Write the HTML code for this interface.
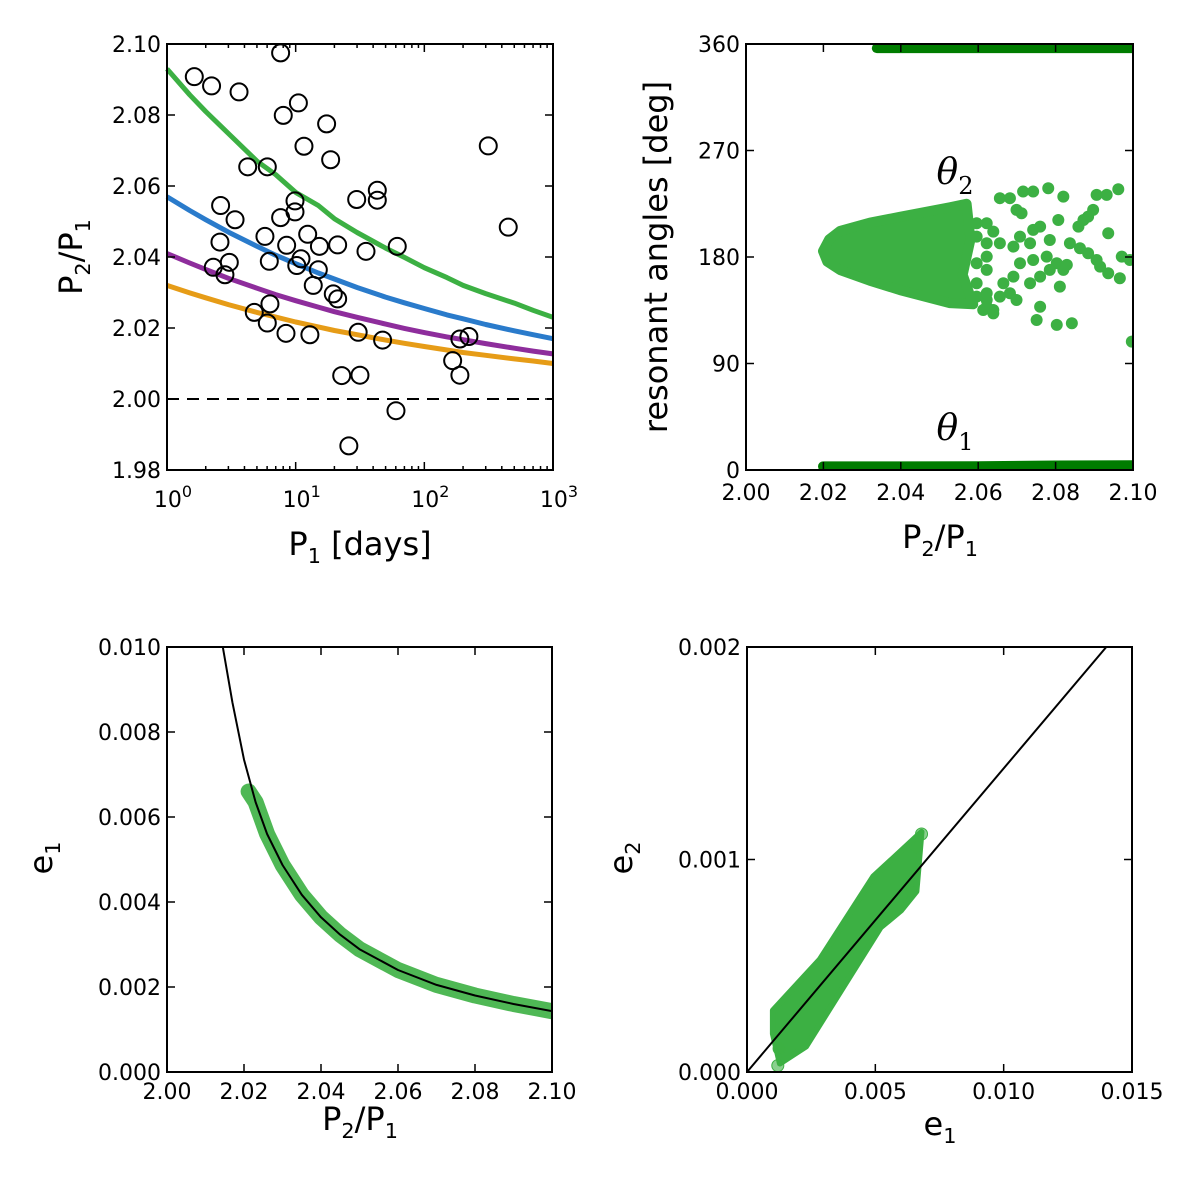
<!DOCTYPE html>
<html><head><meta charset="utf-8"><style>
html,body{margin:0;padding:0;background:#fff;}
svg{display:block;font-family:"DejaVu Sans","Liberation Sans",sans-serif;}
</style></head><body>
<svg id="fig" width="1200" height="1200" viewBox="0 0 1200 1200" xmlns="http://www.w3.org/2000/svg"></svg>
<script>
// ---------- data: panel A (P2/P1 vs P1) ----------
const obsP = [7.64,1.63,2.22,3.63,10.5,8.01,17.4,11.6,314,18.7,4.24,6.02,43.1,43.1,29.8,9.88,9.88,2.61,3.38,7.64,449,5.77,12.4,2.58,8.51,15.3,21.2,61.6,35.2,3.05,6.24,11.0,10.2,2.29,2.82,15.0,13.7,19.6,21.2,6.31,4.77,6.02,8.41,12.9,30.6,47.4,189,222,166,189,22.8,31.6,60.2,25.9];
const obsRatio = [2.0975,2.0908,2.0882,2.0865,2.0834,2.0799,2.0775,2.0712,2.0713,2.0674,2.0654,2.0654,2.0588,2.0560,2.0562,2.0558,2.0527,2.0545,2.0505,2.0511,2.0484,2.0458,2.0464,2.0442,2.0433,2.0430,2.0434,2.0430,2.0416,2.0385,2.0388,2.0395,2.0376,2.0371,2.0350,2.0364,2.0320,2.0296,2.0282,2.0268,2.0244,2.0214,2.0185,2.0181,2.0188,2.0166,2.0169,2.0176,2.0108,2.0067,2.0066,2.0067,1.9967,1.9868];
const curveP = [1,1.5,2,3,5,7,10,15,20,30,50,70,100,150,200,300,500,700,1000];
const greenCurve = [2.093,2.0857,2.081,2.0748,2.067,2.0632,2.0582,2.0545,2.0508,2.0469,2.0425,2.0399,2.037,2.0342,2.032,2.0297,2.027,2.025,2.023];
const blueCurve = [2.057,2.0531,2.0505,2.047,2.043,2.0405,2.0381,2.0355,2.0338,2.0314,2.0287,2.0271,2.0255,2.0237,2.0226,2.021,2.0192,2.0181,2.017];
const purpleCurve = [2.041,2.0383,2.0365,2.034,2.0312,2.0294,2.0277,2.0259,2.0246,2.023,2.0211,2.0199,2.0187,2.0175,2.0167,2.0156,2.0143,2.0135,2.0127];
const orangeCurve = [2.032,2.0299,2.0285,2.0266,2.0244,2.0231,2.0217,2.0203,2.0193,2.0181,2.0166,2.0157,2.0148,2.0138,2.0131,2.0123,2.0113,2.0107,2.0100];
// ---------- data: panel B (resonant angles) ----------
const cloudX = [2.0199,2.0215,2.0243,2.0320,2.0398,2.0527,2.0570,2.0580,2.0560,2.0587,2.0527,2.0398,2.0320,2.0243,2.0210];
const cloudDeg = [185,195,202,209,214,222,225,195,165,140,141,152,160,169,176];
const dotX = [2.0656,2.0682,2.0716,2.0742,2.0781,2.0820,2.0906,2.0932,2.0962,2.0699,2.0712,2.0897,2.0884,2.0872,2.0859,2.0936,2.0807,2.0622,2.0639,2.0708,2.0742,2.0760,2.0785,2.0734,2.0691,2.0656,2.0837,2.0863,2.0884,2.0906,2.0915,2.0936,2.0966,2.0971,2.0992,2.0742,2.0777,2.0803,2.0829,2.0820,2.0785,2.0760,2.0708,2.0691,2.0665,2.0682,2.0734,2.0656,2.0622,2.0613,2.0639,2.0699,2.0760,2.0751,2.0803,2.0842,2.0811,2.0997,2.0596,2.0596,2.0596,2.0596,2.0596,2.0622,2.0622,2.0622,2.0622,2.0622,2.0639];
const dotDeg = [229.7,229.7,235.3,235.3,238.1,231,232.5,232.5,237.3,219.8,217,219.8,214.1,211.3,205.7,200.1,211.3,208.5,201.4,197.2,202.9,205.7,194.4,191.6,188.8,191.6,191.6,187.4,183.2,177.5,171.9,166.3,162,180.3,177.5,177.5,180.3,174.7,173.3,169.1,169.1,163.4,174.7,163.4,157.8,149.4,157.8,146.5,143.7,135.2,135.2,143.7,138,126.8,122.6,124,155,108.5,208.5,197.2,174.7,157.8,146.5,191.6,180.3,169.1,149.4,138,132.4];
const theta1X = [2.0199,2.04,2.06,2.08,2.10];
const theta1Deg = [3,3,3.2,3.8,4];
const theta2X = [2.0338,2.05,2.07,2.09,2.10];
const theta2Deg = [356.5,356.5,356.5,356.5,356.5];
// ---------- data: panel C (e1 vs P2/P1) ----------
const modelRatio = [2.0145,2.017,2.02,2.023,2.026,2.03,2.035,2.04,2.045,2.05,2.06,2.07,2.08,2.09,2.10];
const modelE1 = [0.0100,0.0087,0.00735,0.00635,0.0056,0.00487,0.00417,0.00364,0.00323,0.00289,0.0024,0.00205,0.0018,0.0016,0.00143];
const simRatio = [2.0212,2.023,2.026,2.03,2.035,2.04,2.045,2.05,2.06,2.07,2.08,2.09,2.10];
const simE1 = [0.0066,0.00635,0.0056,0.00487,0.00417,0.00364,0.00323,0.00289,0.0024,0.00205,0.0018,0.0016,0.00143];
// ---------- data: panel D (e2 vs e1) ----------
const lineE1 = [0,0.014];
const lineE2 = [0,0.002];
const bandE1 = [0.00101,0.00101,0.00128,0.0023,0.0052,0.0060,0.0066,0.0068,0.0060,0.00492,0.00284];
const bandE2 = [0.00029,0.00018,0.00004,0.00012,0.00068,0.00076,0.00085,0.00113,0.00104,0.00092,0.00053];
const endE1 = [0.0012,0.00125,0.0068,0.0066,0.0064];
const endE2 = [0.00003,0.00011,0.00112,0.00106,0.00085];

const NS = "http://www.w3.org/2000/svg";
const svg = document.getElementById("fig");
function mk(tag, attrs, parent) {
  const e = document.createElementNS(NS, tag);
  for (const k in attrs) e.setAttribute(k, attrs[k]);
  (parent || svg).appendChild(e);
  return e;
}
function lin(d0, d1, p0, p1) { return v => p0 + (v - d0) / (d1 - d0) * (p1 - p0); }

function frame(L, R, T, B, name) {
  const r = mk("rect", {x: L, y: T, width: R - L, height: B - T, fill: "none", stroke: "#000", "stroke-width": 2});
  
  
}
function xTick(x, T, B, len) {
  mk("line", {x1: x, x2: x, y1: B, y2: B - len, stroke: "#000", "stroke-width": 1.5});
  mk("line", {x1: x, x2: x, y1: T, y2: T + len, stroke: "#000", "stroke-width": 1.5});
}
function yTick(y, L, R, len) {
  mk("line", {x1: L, x2: L + len, y1: y, y2: y, stroke: "#000", "stroke-width": 1.5});
  mk("line", {x1: R, x2: R - len, y1: y, y2: y, stroke: "#000", "stroke-width": 1.5});
}
function text(x, y, s, anchor, size, name) {
  const t = mk("text", {x: x, y: y, "text-anchor": anchor, "font-size": size, fill: "#000"});
  t.textContent = s;
  
  
  return t;
}
function subLabel(x, y, parts, size, name, rotate) {
  const t = mk("text", {x: x, y: y, "text-anchor": "middle", "font-size": size, fill: "#000"});
  if (rotate) t.setAttribute("transform", "rotate(-90 " + x + " " + y + ")");
  
  
  parts.forEach(p => {
    const s = mk("tspan", {}, t);
    s.textContent = p[0];
    if (p[1] === "sub") { s.setAttribute("font-size", size * 0.65); s.setAttribute("dy", size * 0.25); }
    if (p[1] === "up") { s.setAttribute("dy", -size * 0.25); }
  });
  return t;
}

// ================= Panel A =================
(function(){
  const L = 167, R = 553, T = 44, B = 470;
  const X = v => L + Math.log10(v) / 3 * (R - L);
  const Y = lin(1.98, 2.10, B, T);
  const g = mk("g", {});
  
  
  const dash = mk("line", {x1: L, x2: R, y1: Y(2.0), y2: Y(2.0), stroke: "#000", "stroke-width": 2, "stroke-dasharray": "12,8"}, g);
  
  
  const series = [[orangeCurve, "#e69c17", "orange-curve"], [purpleCurve, "#8e2d9c", "purple-curve"], [blueCurve, "#2a7bcb", "blue-curve"], [greenCurve, "#3cb043", "green-curve"]];
  series.forEach(s => {
    const pts = curveP.map((p, i) => X(p).toFixed(1) + "," + Y(s[0][i]).toFixed(1)).join(" ");
    const pl = mk("polyline", {points: pts, fill: "none", stroke: s[1], "stroke-width": 5, "stroke-linejoin": "round"}, g);
    
    
  });
  obsP.forEach((p, i) => {
    const c = mk("circle", {cx: X(p), cy: Y(obsRatio[i]), r: 8.5, fill: "none", stroke: "#000", "stroke-width": 2}, g);
    
    
  });
  frame(L, R, T, B, "panel-a");
  for (let d = 0; d < 3; d++) for (let m = 2; m <= 9; m++) xTick(X(m * Math.pow(10, d)), T, B, 4);
  [1, 10, 100, 1000].forEach((v, i) => {
    xTick(X(v), T, B, 8);
    const t = mk("text", {x: X(v) + 6, y: B + 37, "text-anchor": "middle", "font-size": 22});
    
    
    const a = mk("tspan", {}, t); a.textContent = "10";
    const b = mk("tspan", {"font-size": 16, dy: -10}, t); b.textContent = String(i);
  });
  [1.98, 2.00, 2.02, 2.04, 2.06, 2.08, 2.10].forEach(v => {
    yTick(Y(v), L, R, 8);
    text(L - 6, Y(v) + 8, v.toFixed(2), "end", 22, "y-tick-label");
  });
  subLabel(360, 555, [["P"], ["1", "sub"], ["  [days]", "up"]], 32, "x-axis-title");
  subLabel(82, 257, [["P"], ["2", "sub"], ["/P", "up"], ["1", "sub"]], 32, "y-axis-title", true);
})();

// ================= Panel B =================
(function(){
  const L = 746, R = 1133, T = 44, B = 470;
  const X = lin(2.0, 2.1, L, R);
  const Y = lin(0, 360, B, T);
  const cp = mk("clipPath", {id: "clipB"});
  mk("rect", {x: L, y: T, width: R - L, height: B - T}, cp);
  const g = mk("g", {"clip-path": "url(#clipB)"});
  
  
  const poly = mk("polygon", {points: cloudX.map((x, i) => X(x).toFixed(1) + "," + Y(cloudDeg[i]).toFixed(1)).join(" "), fill: "#3cb043", stroke: "#3cb043", "stroke-width": 10, "stroke-linejoin": "round"}, g);
  
  
  dotX.forEach((x, i) => {
    const c = mk("circle", {cx: X(x), cy: Y(dotDeg[i]), r: 6, fill: "#3cb043"}, g);
    
    
  });
  const b1 = mk("polyline", {points: theta1X.map((x, i) => X(x).toFixed(1) + "," + Y(theta1Deg[i]).toFixed(1)).join(" "), fill: "none", stroke: "#007c00", "stroke-width": 10, "stroke-linecap": "round"}, g);
  
  
  const b2 = mk("polyline", {points: theta2X.map((x, i) => X(x).toFixed(1) + "," + Y(theta2Deg[i]).toFixed(1)).join(" "), fill: "none", stroke: "#007c00", "stroke-width": 10, "stroke-linecap": "round"}, g);
  
  
  frame(L, R, T, B, "panel-b");
  [2.0, 2.02, 2.04, 2.06, 2.08, 2.10].forEach(v => { xTick(X(v), T, B, 8); text(X(v), B + 30, v.toFixed(2), "middle", 22, "x-tick-label"); });
  [0, 90, 180, 270, 360].forEach(v => { yTick(Y(v), L, R, 8); text(L - 6, Y(v) + 8, String(v), "end", 22, "y-tick-label"); });
  const th = (x, y, n, name) => {
    const t = mk("text", {x: x, y: y, "text-anchor": "middle", "font-size": 36, "font-style": "italic", "font-family": "'DejaVu Serif','Liberation Serif',serif"});
    
    
    const a = mk("tspan", {}, t); a.textContent = "θ";
    const b = mk("tspan", {"font-size": 24, dy: 10, "font-style": "normal"}, t); b.textContent = n;
  };
  th(955, 184, "2", "theta2-label");
  th(955, 440, "1", "theta1-label");
  subLabel(940, 548, [["P"], ["2", "sub"], ["/P", "up"], ["1", "sub"]], 32, "x-axis-title");
  const yl = text(667, 257, "resonant angles  [deg]", "middle", 32, "y-axis-title");
  yl.setAttribute("transform", "rotate(-90 667 257)");
  yl.setAttribute("xml:space", "preserve");
})();

// ================= Panel C =================
(function(){
  const L = 167, R = 552, T = 647, B = 1072;
  const X = lin(2.0, 2.1, L, R);
  const Y = lin(0, 0.010, B, T);
  const cp = mk("clipPath", {id: "clipC"});
  mk("rect", {x: L, y: T, width: R - L, height: B - T}, cp);
  const g = mk("g", {"clip-path": "url(#clipC)"});
  
  
  const band = mk("polyline", {points: simRatio.map((x, i) => X(x).toFixed(1) + "," + Y(simE1[i]).toFixed(1)).join(" "), fill: "none", stroke: "#3cb043", "stroke-width": 16, "stroke-linecap": "round", "stroke-linejoin": "round", opacity: 0.9}, g);
  
  
  const m = mk("polyline", {points: modelRatio.map((x, i) => X(x).toFixed(1) + "," + Y(modelE1[i]).toFixed(1)).join(" "), fill: "none", stroke: "#000", "stroke-width": 2, "stroke-linejoin": "round"}, g);
  
  
  frame(L, R, T, B, "panel-c");
  [2.0, 2.02, 2.04, 2.06, 2.08, 2.10].forEach(v => { xTick(X(v), T, B, 8); text(X(v), B + 27, v.toFixed(2), "middle", 22, "x-tick-label"); });
  [0, 0.002, 0.004, 0.006, 0.008, 0.010].forEach(v => { yTick(Y(v), L, R, 8); text(L - 6, Y(v) + 8, v.toFixed(3), "end", 22, "y-tick-label"); });
  subLabel(360, 1130, [["P"], ["2", "sub"], ["/P", "up"], ["1", "sub"]], 32, "x-axis-title");
  subLabel(52, 858, [["e"], ["1", "sub"]], 32, "y-axis-title", true);
})();

// ================= Panel D =================
(function(){
  const L = 747, R = 1132, T = 647, B = 1072;
  const X = lin(0, 0.015, L, R);
  const Y = lin(0, 0.002, B, T);
  const cp = mk("clipPath", {id: "clipD"});
  mk("rect", {x: L, y: T, width: R - L, height: B - T}, cp);
  const g = mk("g", {"clip-path": "url(#clipD)"});
  
  
  const band = mk("polygon", {points: bandE1.map((x, i) => X(x).toFixed(1) + "," + Y(bandE2[i]).toFixed(1)).join(" "), fill: "#3cb043", stroke: "#3cb043", "stroke-width": 6, "stroke-linejoin": "round"}, g);
  
  
  endE1.forEach((x, i) => {
    const c = mk("circle", {cx: X(x), cy: Y(endE2[i]), r: 6, fill: "#3cb043", "fill-opacity": 0.6, stroke: "#3cb043"}, g);
    
    
  });
  const ln = mk("polyline", {points: lineE1.map((x, i) => X(x).toFixed(1) + "," + Y(lineE2[i]).toFixed(1)).join(" "), fill: "none", stroke: "#000", "stroke-width": 2}, g);
  
  
  frame(L, R, T, B, "panel-d");
  [0, 0.005, 0.010, 0.015].forEach(v => { xTick(X(v), T, B, 8); text(X(v), B + 27, v.toFixed(3), "middle", 22, "x-tick-label"); });
  [0, 0.001, 0.002].forEach(v => { yTick(Y(v), L, R, 8); text(L - 6, Y(v) + 8, v.toFixed(3), "end", 22, "y-tick-label"); });
  subLabel(940, 1135, [["e"], ["1", "sub"]], 32, "x-axis-title");
  subLabel(632, 858, [["e"], ["2", "sub"]], 32, "y-axis-title", true);
})();
</script>
</body></html>
